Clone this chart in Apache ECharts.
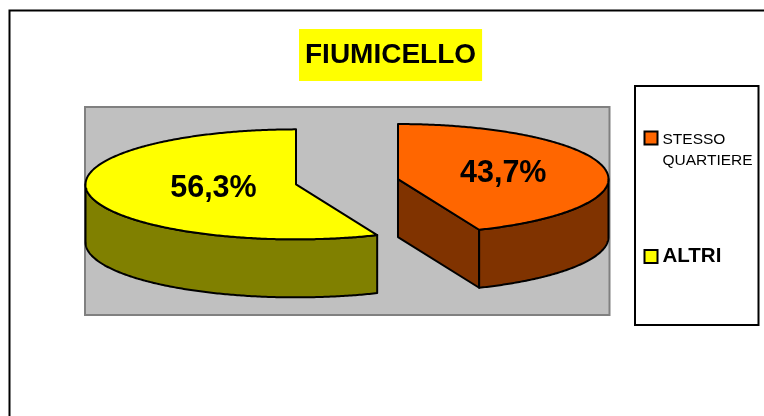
<!DOCTYPE html>
<html><head><meta charset="utf-8">
<script src="https://cdn.jsdelivr.net/npm/echarts@6/dist/echarts.min.js"></script>
<style>html,body{margin:0;padding:0;background:#fff}#c{width:764px;height:416px}</style>
</head><body><div id="c"></div>
<script>
const chartTitle = 'FIUMICELLO';
const categories = ['STESSO QUARTIERE', 'ALTRI'];
const values = [43.7, 56.3];
const topColors = ['#FF6600', '#FFFF00'];
const sideColors = ['#803300', '#808000'];

const font = '"Liberation Sans", Arial, sans-serif';
const pie = {cx: 262, cy: 74.7, rx: 210.5, ry: 55, depth: 58, explode: 52};
const labelRadius = [0.51, 0.40];
const total = values.reduce((a, b) => a + b, 0);

function sliceRenderer(idx) {
  const before = values.slice(0, idx).reduce((a, b) => a + b, 0);
  return function (params, api) {
    const a0 = before / total * 2 * Math.PI;
    const a1 = (before + api.value(0)) / total * 2 * Math.PI;
    const mid = (a0 + a1) / 2;
    const cx = pie.cx + pie.explode * Math.sin(mid);
    const cy = pie.cy - pie.explode * (pie.ry / pie.rx) * Math.cos(mid);
    const pt = (a, down) => api.coord([cx + pie.rx * Math.sin(a), cy - pie.ry * Math.cos(a) + (down || 0)]);
    const arc = (s, e, down) => {
      const n = Math.max(2, Math.ceil(Math.abs(e - s) / 0.01)), out = [];
      for (let i = 0; i <= n; i++) out.push(pt(s + (e - s) * i / n, down));
      return out;
    };
    const center = (down) => api.coord([cx, cy + (down || 0)]);
    const stroke = {stroke: '#000', lineWidth: 2, lineJoin: 'round'};
    const children = [];
    const poly = (points, fill) => children.push({type: 'polygon', shape: {points}, style: Object.assign({fill}, stroke)});
    const side = sideColors[idx];
    // cut face toward the viewer
    if (a1 > Math.PI / 2 && a1 < Math.PI) {
      poly([center(), pt(a1), pt(a1, pie.depth), center(pie.depth)], side);
    }
    // curved outer wall: visible only on the front half of the rim
    const ws = Math.max(a0, Math.PI / 2), we = Math.min(a1, 3 * Math.PI / 2);
    if (we > ws) poly(arc(ws, we).concat(arc(we, ws, pie.depth)), side);
    // top face
    poly([center()].concat(arc(a0, a1)), topColors[idx]);
    // value label
    const f = labelRadius[idx];
    const lp = api.coord([cx + pie.rx * f * Math.sin(mid), cy - pie.ry * f * Math.cos(mid)]);
    children.push({type: 'text', x: lp[0], y: lp[1], style: {
      text: api.value(0).toFixed(1).replace('.', ',') + '%',
      font: 'bold 30.5px ' + font, fill: '#000', align: 'center', verticalAlign: 'middle'
    }});
    return {type: 'group', children};
  };
}

const legendBase = {
  orient: 'vertical', selectedMode: false, itemWidth: 13, itemHeight: 13, itemGap: 0, padding: 0,
  icon: 'rect', itemStyle: {borderColor: '#000', borderWidth: 2}
};
const legendFont = {fontFamily: font, fontSize: 15.5, color: '#000'};

const chart = echarts.init(document.getElementById('c'), null, {renderer: 'canvas'});
chart.setOption({
  animation: false,
  backgroundColor: '#fff',
  title: {
    text: chartTitle, left: 299, top: 29, padding: [10, 6],
    backgroundColor: '#FFFF00',
    textStyle: {fontFamily: font, fontWeight: 'bold', fontSize: 28, lineHeight: 32, color: '#000'}
  },
  grid: {left: 85, top: 107, width: 524.5, height: 208, show: true, backgroundColor: '#C0C0C0', borderColor: '#808080', borderWidth: 2},
  xAxis: {type: 'value', min: 0, max: 524.5, show: false},
  yAxis: {type: 'value', min: 0, max: 208, inverse: true, show: false},
  graphic: [
    {type: 'rect', z: -10, shape: {x: 9.5, y: 10.5, width: 800, height: 500}, style: {fill: 'none', stroke: '#000', lineWidth: 2}},
    {type: 'rect', z: -10, shape: {x: 635, y: 86, width: 123.5, height: 239}, style: {fill: '#fff', stroke: '#000', lineWidth: 2}}
  ],
  legend: [
    Object.assign({}, legendBase, {
      left: 643.5, top: 109, data: [categories[0]],
      formatter: (n) => '{s| }\n' + n.split(' ').map((w) => '{a|' + w + '}').join('\n'),
      textStyle: Object.assign({}, legendFont, {
        rich: {s: Object.assign({}, legendFont, {lineHeight: 25}), a: Object.assign({}, legendFont, {lineHeight: 21})}
      })
    }),
    Object.assign({}, legendBase, {
      left: 643.5, top: 246, data: [categories[1]],
      textStyle: {fontFamily: font, fontSize: 20.5, fontWeight: 'bold', color: '#000'}
    })
  ],
  series: categories.map((name, i) => ({
    type: 'custom', name, clip: false, z: 5,
    coordinateSystem: 'cartesian2d',
    itemStyle: {color: topColors[i]},
    renderItem: sliceRenderer(i),
    data: [[values[i]]]
  }))
});
</script></body></html>
